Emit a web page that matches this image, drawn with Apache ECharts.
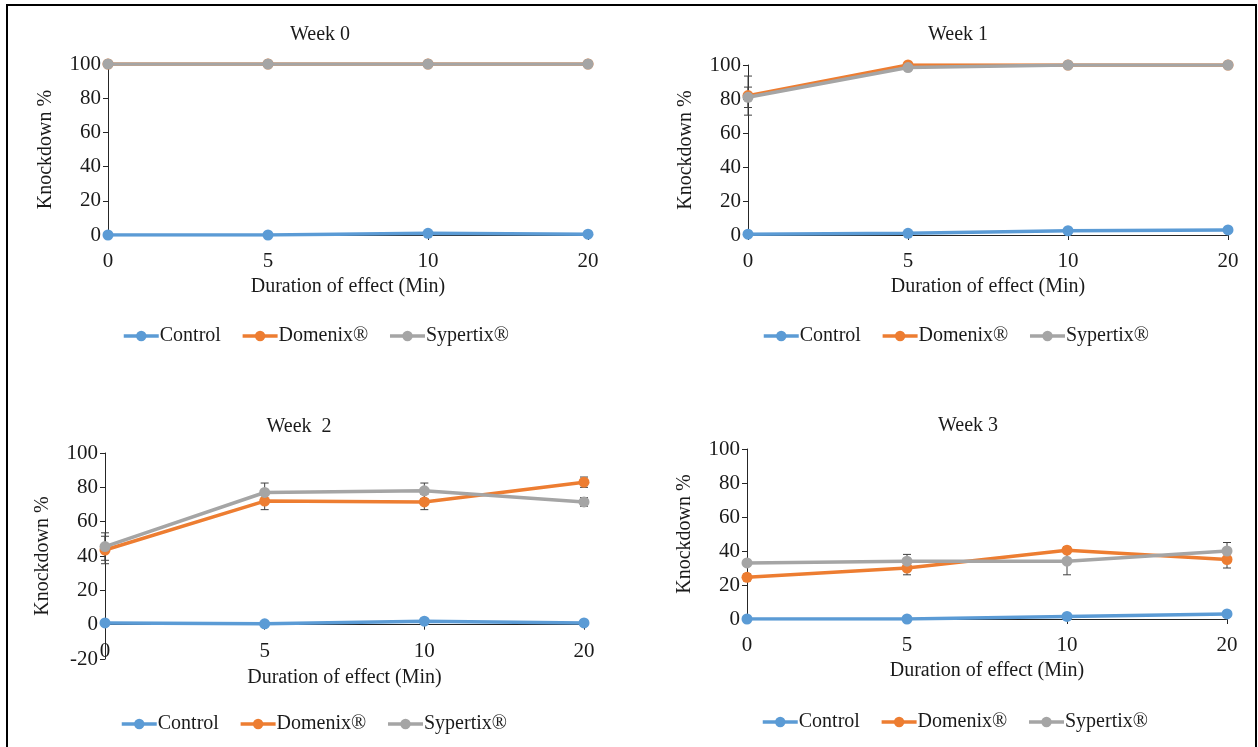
<!DOCTYPE html>
<html>
<head>
<meta charset="utf-8">
<script src="https://cdn.jsdelivr.net/npm/echarts@6/dist/echarts.min.js"></script>
<style>
  html, body { margin: 0; padding: 0; background: #fff; }
  #knockdownChart { width: 1258px; height: 747px; }
</style>
</head>
<body>
<div id="knockdownChart"></div>
<script>
// x categories (Duration of effect, Min)
const durations = ["0", "5", "10", "20"];
const seriesNames = ["Control", "Domenix®", "Sypertix®"];
const weekTitles = ["Week 0", "Week 1", "Week  2", "Week 3"];

// mean knockdown % per week
const week0Control = [0, 0, 1, 0.5];
const week0Domenix = [100, 100, 100, 100];
const week0Sypertix = [100, 100, 100, 100];

const week1Control = [0.5, 1, 2.5, 3];
const week1Domenix = [82, 100, 100, 100];
const week1Sypertix = [81, 98.5, 100, 100];

const week2Control = [1, 0.5, 2, 1];
const week2Domenix = [43.5, 72, 71.5, 83];
const week2Sypertix = [45.5, 77, 78, 71.5];

const week3Control = [0, 0, 1.5, 3];
const week3Domenix = [24.5, 30, 40.5, 35];
const week3Sypertix = [33, 34, 34, 40];

// error bar half-widths (±)
const week0DomenixErr = [0, 0, 0, 0];
const week0SypertixErr = [0, 0, 0, 0];
const week1DomenixErr = [11.5, 0, 0, 0];
const week1SypertixErr = [6, 0, 0, 0];
const week2DomenixErr = [8, 5, 4.5, 3];
const week2SypertixErr = [8, 5.5, 4.5, 2.5];
const week3DomenixErr = [2, 4, 2, 5];
const week3SypertixErr = [1, 4, 8, 5];

// y axis ranges
const yMins = [0, 0, -20, 0];
const yMax = 100;
const yStep = 20;

const weeks = [
  { control: week0Control, domenix: week0Domenix, sypertix: week0Sypertix, domErr: week0DomenixErr, sypErr: week0SypertixErr },
  { control: week1Control, domenix: week1Domenix, sypertix: week1Sypertix, domErr: week1DomenixErr, sypErr: week1SypertixErr },
  { control: week2Control, domenix: week2Domenix, sypertix: week2Sypertix, domErr: week2DomenixErr, sypErr: week2SypertixErr },
  { control: week3Control, domenix: week3Domenix, sypertix: week3Sypertix, domErr: week3DomenixErr, sypErr: week3SypertixErr }
];

const colors = ["#5B9BD5", "#ED7D31", "#A5A5A5"];
const font = "'Liberation Serif', 'Times New Roman', serif";
const textColor = "#1a1a1a";
const axisColor = "#262626";

// panel layout
const grids = [
  { left: 108, top: 64, width: 480, height: 171 },
  { left: 748, top: 65, width: 480, height: 170 },
  { left: 105, top: 453, width: 479, height: 206 },
  { left: 747, top: 449, width: 480, height: 170 }
];
const titlePos = [[315, 20], [953, 20], [294, 412], [963, 411]];
const legendPos = [[117, 321], [757, 321], [115, 709], [756, 707]];
// week 2 has the x axis crossing at 0, labels sit next to that line
const xLabelMargin = [16, 16, -18, 16];
const xNameGap = [42, 42, 9, 42];

let chart = echarts.init(document.getElementById("knockdownChart"));

let titles = [], gridList = [], xAxes = [], yAxes = [], legends = [], series = [];

weeks.forEach(function(w, i) {
  titles.push({
    text: weekTitles[i],
    left: titlePos[i][0],
    top: titlePos[i][1],
    textAlign: "center",
    textStyle: { fontFamily: font, fontSize: 20, fontWeight: "normal", color: textColor }
  });
  gridList.push(Object.assign({ containLabel: false }, grids[i]));
  xAxes.push({
    type: "category",
    gridIndex: i,
    data: durations,
    boundaryGap: false,
    name: "Duration of effect (Min)",
    nameLocation: "middle",
    nameGap: xNameGap[i],
    nameTextStyle: { fontFamily: font, fontSize: 20, color: textColor },
    axisLine: { onZero: true, lineStyle: { color: axisColor, width: 1 } },
    axisTick: { show: true, length: 5, lineStyle: { color: axisColor } },
    axisLabel: { fontFamily: font, fontSize: 21, color: textColor, margin: xLabelMargin[i] },
    splitLine: { show: false }
  });
  yAxes.push({
    type: "value",
    gridIndex: i,
    min: yMins[i],
    max: yMax,
    interval: yStep,
    name: "Knockdown %",
    nameLocation: "middle",
    nameGap: 52,
    nameTextStyle: { fontFamily: font, fontSize: 20, color: textColor },
    axisLine: { show: true, lineStyle: { color: axisColor, width: 1 } },
    axisTick: { show: true, length: 5, lineStyle: { color: axisColor } },
    axisLabel: { fontFamily: font, fontSize: 21, color: textColor, margin: 7 },
    splitLine: { show: false }
  });
  legends.push({
    data: seriesNames,
    left: legendPos[i][0],
    top: legendPos[i][1],
    itemWidth: 35,
    itemHeight: 13,
    itemGap: 20,
    lineStyle: { width: 3.5 },
    textStyle: { fontFamily: font, fontSize: 20, color: textColor, padding: [0, 0, 0, -4] },
    selectedMode: false
  });

  const values = [w.control, w.domenix, w.sypertix];
  values.forEach(function(v, k) {
    series.push({
      name: seriesNames[k],
      type: "line",
      xAxisIndex: i,
      yAxisIndex: i,
      data: v,
      symbol: "circle",
      symbolSize: 11,
      lineStyle: { width: 3.5, color: colors[k] },
      itemStyle: { color: colors[k] },
      z: 3 + k,
      animation: false
    });
  });

  // error bars (mean ± err)
  const errData = [];
  [[w.domenix, w.domErr], [w.sypertix, w.sypErr]].forEach(function(pair) {
    pair[0].forEach(function(m, j) {
      if (pair[1][j] > 0) errData.push([j, m - pair[1][j], m + pair[1][j]]);
    });
  });
  series.push({
    type: "custom",
    xAxisIndex: i,
    yAxisIndex: i,
    data: errData,
    z: 2,
    silent: true,
    animation: false,
    renderItem: function(params, api) {
      const lo = api.coord([api.value(0), api.value(1)]);
      const hi = api.coord([api.value(0), api.value(2)]);
      const cap = 4;
      const style = { stroke: "#404040", lineWidth: 1 };
      return {
        type: "group",
        children: [
          { type: "line", shape: { x1: lo[0], y1: lo[1], x2: hi[0], y2: hi[1] }, style: style },
          { type: "line", shape: { x1: lo[0] - cap, y1: lo[1], x2: lo[0] + cap, y2: lo[1] }, style: style },
          { type: "line", shape: { x1: hi[0] - cap, y1: hi[1], x2: hi[0] + cap, y2: hi[1] }, style: style }
        ]
      };
    }
  });
});

let option = {
  backgroundColor: "#fff",
  animation: false,
  title: titles,
  grid: gridList,
  xAxis: xAxes,
  yAxis: yAxes,
  legend: legends,
  series: series,
  graphic: [{
    type: "rect",
    shape: { x: 7, y: 5, width: 1249, height: 760 },
    style: { fill: "none", stroke: "#000", lineWidth: 2 },
    silent: true
  }]
};
chart.setOption(option);
</script>
</body>
</html>
